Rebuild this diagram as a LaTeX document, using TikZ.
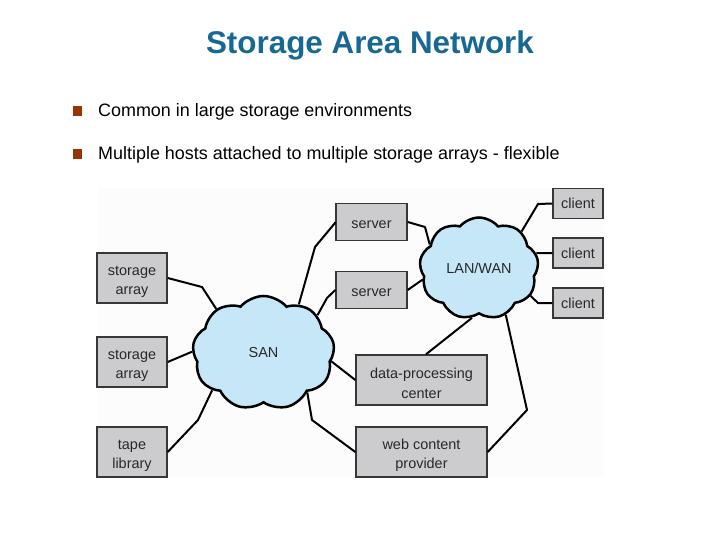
\documentclass[tikz,border=0pt]{standalone}
\usepackage{fontspec}
\setmainfont{Liberation Sans}
\usetikzlibrary{shapes.symbols}
\definecolor{titleblue}{RGB}{24,104,148}
\definecolor{bulletred}{RGB}{153,51,0}
\definecolor{boxgray}{RGB}{204,204,206}
\definecolor{boxline}{RGB}{55,55,55}
\definecolor{cloudblue}{RGB}{198,231,248}
\definecolor{txtgray}{RGB}{40,40,40}
\newcommand{\toppad}{\rule{0pt}{17bp}}
\begin{document}
\begin{tikzpicture}[x=1bp,y=-1bp,
  box/.style={draw=boxline,line width=1.4bp,fill=boxgray,inner sep=0pt,
    align=center,text=txtgray,font=\fontsize{14.5}{20}\selectfont},
  netcloud/.style={cloud,cloud ignores aspect,cloud puff arc=100,
    draw=black,line width=2.5bp,fill=cloudblue,inner sep=0pt,text=txtgray,
    font=\fontsize{14.5}{17}\selectfont},
  link/.style={draw=black,line width=2bp,line join=round},
  bullet/.style={fill=bulletred,minimum size=9.5bp,inner sep=0pt},
  item/.style={anchor=west,inner sep=0pt,font=\fontsize{18}{22}\selectfont}]
\useasboundingbox (0,0) rectangle (720,540);
% picture background
\fill[white!99!black] (98,188) rectangle (604,477);
% title and bullets
\node[text=titleblue,font=\bfseries\fontsize{31.5}{36}\selectfont] (title) at (370,45) {Storage Area Network};
\node[bullet] (b1) at (77.5,111) {};
\node[item] (t1) at (98,111.5) {Common in large storage environments};
\node[bullet] (b2) at (77.5,154) {};
\node[item] (t2) at (98,154.5) {Multiple hosts attached to multiple storage arrays - flexible};
% clouds
\node[netcloud,cloud puffs=9,minimum width=142bp,minimum height=114bp] (san) at (263.5,353) {SAN};
\node[netcloud,cloud puffs=9,minimum width=119bp,minimum height=102bp] (lan) at (479,268.5) {LAN/WAN};
% boxes
\node[box,minimum width=70bp,minimum height=50bp] (sa1) at (132,278) {\toppad storage\\array};
\node[box,minimum width=70bp,minimum height=50bp] (sa2) at (132,362) {\toppad storage\\array};
\node[box,minimum width=70bp,minimum height=50bp] (tape) at (132,452) {\toppad tape\\library};
\node[box,minimum width=71bp,minimum height=37bp] (srv1) at (371.5,222) {\rule{0pt}{13bp}server};
\node[box,minimum width=71bp,minimum height=37bp] (srv2) at (371.5,290) {\rule{0pt}{13bp}server};
\node[box,minimum width=50bp,minimum height=30bp] (c1) at (578,203.5) {client};
\node[box,minimum width=50bp,minimum height=30bp] (c2) at (578,253) {client};
\node[box,minimum width=50bp,minimum height=30bp] (c3) at (578,303) {client};
\node[box,minimum width=131bp,minimum height=50bp] (dp) at (421.5,380) {\toppad data-processing\\center};
\node[box,minimum width=131bp,minimum height=50bp] (web) at (421.5,452) {\toppad web content\\provider};
% connectors
\draw[link] (sa1.east) -- (202,287) -- (san.137);
\draw[link] (sa2.east) -- (san.179);
\draw[link] (tape.east) -- (198,420) -- (san.216);
\draw[link] (srv1.west) -- (335,223) -- (315,247) -- (san.54);
\draw[link] (srv2.west) -- (327,298) -- (san.35);
\draw[link] (dp.west) -- (san.353);
\draw[link] (web.west) -- (312,420) -- (san.318);
\draw[link] (srv1.east) -- (425,227) -- (lan.154);
\draw[link] (srv2.east) -- (422,280) -- (lan.192);
\draw[link] (c1.west) -- (538,204) -- (lan.41);
\draw[link] (c2.west) -- (lan.15);
\draw[link] (c3.west) -- (538,303) -- (lan.332);
\draw[link] (dp.north) ++(4.5,0) coordinate (dpn) (dpn) -- (lan.262);
\draw[link] (web.east) -- (527,410) -- (lan.300);
\end{tikzpicture}
\end{document}
